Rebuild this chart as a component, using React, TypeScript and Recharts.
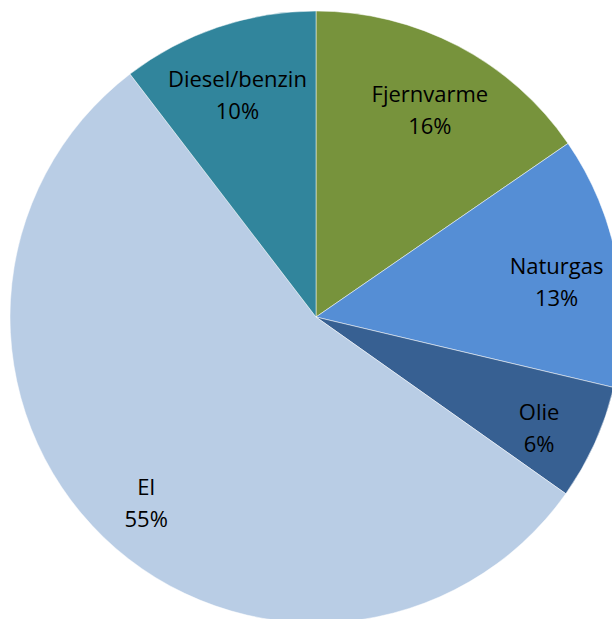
import { Cell, Pie, PieChart } from "recharts";

// Energiforbrug fordelt på energiart (andele i %)
const categories = ["Fjernvarme", "Naturgas", "Olie", "El", "Diesel/benzin"];
const values = [15.4, 13.3, 6.1, 54.8, 10.4];
const percentLabels = ["16%", "13%", "6%", "55%", "10%"];
const colors = ["#77933C", "#558ED5", "#376092", "#B9CDE5", "#31859C"];

const data = categories.map((name, i) => ({ name, value: values[i], pct: percentLabels[i] }));

const RADIAN = Math.PI / 180;

function renderLabel(props: any) {
    const { cx, cy, midAngle, outerRadius, index } = props;
    const r = outerRadius * 0.8;
    const x = cx + r * Math.cos(-midAngle * RADIAN);
    const y = cy + r * Math.sin(-midAngle * RADIAN);
    return (
        <text x={x} y={y} textAnchor="middle" fill="#000" fontSize={22} fontFamily="'Open Sans', sans-serif">
            <tspan x={x} dy={2}>{data[index].name}</tspan>
            <tspan x={x} dy={32}>{data[index].pct}</tspan>
        </text>
    );
}

export default function App() {
    return (
        <div style={{ position: "fixed", left: 0, top: 0, width: 612, height: 619, overflow: "hidden", background: "#fff" }}>
            <PieChart width={612} height={619} margin={{ top: 0, right: 0, bottom: 0, left: 0 }}>
                <Pie
                    data={data}
                    dataKey="value"
                    nameKey="name"
                    cx={316}
                    cy={317}
                    outerRadius={306}
                    startAngle={90}
                    endAngle={-270}
                    stroke="#ffffff"
                    strokeWidth={0.5}
                    label={renderLabel}
                    labelLine={false}
                    isAnimationActive={false}
                >
                    {data.map((d, i) => (
                        <Cell key={d.name} fill={colors[i]} />
                    ))}
                </Pie>
            </PieChart>
        </div>
    );
}
